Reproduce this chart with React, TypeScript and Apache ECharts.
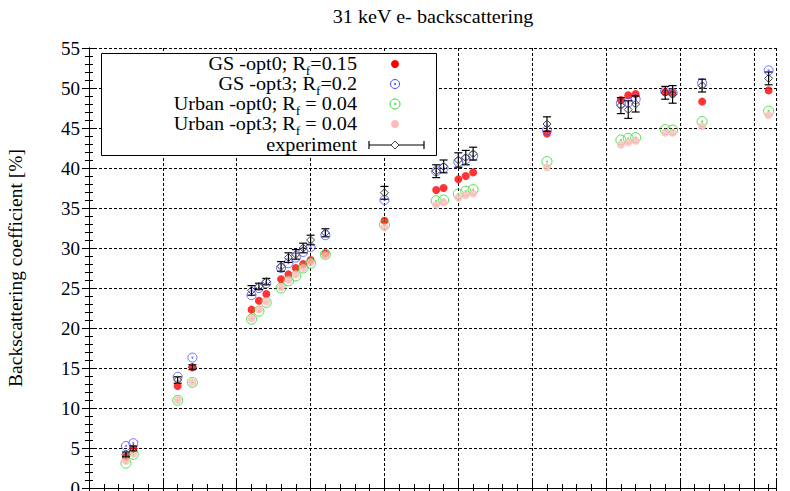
import React, { useEffect, useRef } from "react";
import * as echarts from "echarts";

// Atomic number of each target
const atomicNumbers = [5, 6, 12, 14, 22, 23, 24, 26, 27, 28, 29, 30, 32, 40, 47, 48, 50, 51, 52, 62, 72, 73, 74, 78, 79, 83, 92];
const gsOpt0 = [3.9, 4.9, 12.75, 15.1, 22.3, 23.4, 24.25, 26.1, 26.7, 27.5, 28.0, 28.5, 29.3, 33.4, 37.25, 37.5, 38.6, 39.0, 39.45, 44.3, 48.5, 49.1, 49.25, 49.5, 49.4, 48.3, 49.7];
const gsOpt3 = [5.25, 5.6, 13.9, 16.3, 24.1, 25.0, 25.6, 27.5, 28.1, 28.8, 29.5, 30.1, 31.6, 36.0, 39.6, 40.0, 40.75, 41.1, 41.5, 44.7, 48.1, 48.2, 48.6, 49.6, 49.4, 50.6, 52.2];
const urbanOpt0 = [3.1, 4.2, 10.96, 13.2, 21.1, 22.1, 23.2, 25.0, 25.9, 26.5, 27.5, 28.1, 29.2, 32.9, 35.9, 36.0, 36.75, 37.1, 37.3, 40.8, 43.5, 43.7, 43.8, 44.8, 44.75, 45.8, 47.1];
const urbanOpt3 = [3.4, 4.3, 11.0, 13.2, 21.2, 22.3, 23.3, 25.1, 26.0, 26.7, 27.5, 28.2, 29.1, 32.6, 35.4, 35.7, 36.3, 36.6, 36.8, 40.1, 42.9, 43.2, 43.4, 44.4, 44.4, 45.2, 46.6];
const experiment = [4.2, 4.95, 13.5, 15.1, 24.7, 25.2, 25.8, 27.7, 28.8, 29.2, 30.0, 31.0, 31.9, 36.9, 39.6, 40.2, 41.0, 41.3, 41.8, 45.5, 47.8, 47.3, 48.0, 49.4, 49.2, 50.3, 51.2];
const experimentErr = [0.3, 0.3, 0.4, 0.3, 0.6, 0.4, 0.4, 0.6, 0.6, 0.6, 0.6, 0.6, 0.5, 0.8, 0.8, 0.8, 0.9, 0.9, 0.8, 0.9, 1.0, 1.1, 1.0, 0.8, 1.1, 0.8, 0.8];

const legendLabels = [
  "GS -opt0; R{s|f}=0.15",
  "GS -opt3; R{s|f}=0.2",
  "Urban -opt0; R{s|f} = 0.04",
  "Urban -opt3; R{s|f} = 0.04",
  "experiment",
];

const SERIF = '"Liberation Serif", "DejaVu Serif", serif';
const RED = "#ff0000";
const BLUE = "#4a4aff";
const GREEN = "#22dd22";
const PINK = "#ffbaba";

export default function App() {
  const ref = useRef<HTMLDivElement>(null);
  useEffect(() => {
    if (!ref.current) return;
    const chart = echarts.init(ref.current, null, { renderer: "svg" });
    const pts = (vals: number[]) => atomicNumbers.map((z, i) => [z, vals[i]]);
    const expData = atomicNumbers.map((z, i) => [z, experiment[i], experimentErr[i]]);

    const axisCommon = {
      axisLine: { show: true, lineStyle: { color: "#000", width: 1 } },
      axisTick: { show: true, inside: true, length: 7, lineStyle: { color: "#000" } },
      minorTick: { show: true, splitNumber: 5, length: 4, lineStyle: { color: "#000" } },
    };

    const legendX = 395;
    const legendYs = [64, 84, 104, 124, 145];
    const graphic: any[] = [
      {
        type: "text",
        x: 433,
        y: 17,
        scaleX: 1.12,
        style: {
          text: "31 keV e- backscattering",
          font: `18px ${SERIF}`,
          fill: "#000",
          align: "center",
          verticalAlign: "middle",
          textAlign: "center",
          textVerticalAlign: "middle",
        },
      },
      {
        type: "rect",
        shape: { x: 101.5, y: 53.5, width: 335, height: 102 },
        style: { fill: "#fff", stroke: "#000", lineWidth: 1 },
        z: 10,
      },
    ];
    legendLabels.forEach((t, i) => {
      graphic.push({
        type: "text",
        x: 357,
        y: legendYs[i],
        scaleX: 1.12,
        z: 11,
        style: {
          text: t,
          font: `18px ${SERIF}`,
          fill: "#000",
          lineHeight: 20,
          align: "right",
          verticalAlign: "middle",
          textAlign: "right",
          textVerticalAlign: "middle",
          rich: { s: { font: `12px ${SERIF}`, verticalAlign: "bottom", height: 6, fill: "#000" } },
        },
      });
    });
    graphic.push(
      { type: "circle", z: 11, shape: { cx: legendX, cy: legendYs[0], r: 4 }, style: { fill: RED } },
      { type: "circle", z: 11, shape: { cx: legendX, cy: legendYs[1], r: 4.5 }, style: { fill: "none", stroke: BLUE, lineWidth: 1 } },
      { type: "circle", z: 11, shape: { cx: legendX, cy: legendYs[1], r: 1 }, style: { fill: BLUE } },
      { type: "circle", z: 11, shape: { cx: legendX, cy: legendYs[2], r: 5 }, style: { fill: "none", stroke: GREEN, lineWidth: 1 } },
      { type: "circle", z: 11, shape: { cx: legendX, cy: legendYs[2], r: 1 }, style: { fill: GREEN } },
      { type: "circle", z: 11, shape: { cx: legendX, cy: legendYs[3], r: 4 }, style: { fill: PINK } },
      { type: "line", z: 11, shape: { x1: 369, y1: legendYs[4], x2: 424, y2: legendYs[4] }, style: { stroke: "#000", lineWidth: 1.2 } },
      { type: "line", z: 11, shape: { x1: 369, y1: legendYs[4] - 4, x2: 369, y2: legendYs[4] + 4 }, style: { stroke: "#000", lineWidth: 1.2 } },
      { type: "line", z: 11, shape: { x1: 424, y1: legendYs[4] - 4, x2: 424, y2: legendYs[4] + 4 }, style: { stroke: "#000", lineWidth: 1.2 } },
      {
        type: "polygon",
        z: 12,
        shape: { points: [[legendX, legendYs[4] - 4], [legendX + 4, legendYs[4]], [legendX, legendYs[4] + 4], [legendX - 4, legendYs[4]]] },
        style: { fill: "#fff", stroke: "#444", lineWidth: 1 },
      }
    );

    const option: any = {
      animation: false,
      backgroundColor: "#fff",
      grid: { left: 89, right: 14, top: 48, bottom: 3, containLabel: false, outerBoundsMode: "none" },
      graphic,
      xAxis: [
        {
          type: "value",
          min: 0,
          max: 93,
          interval: 10,
          position: "bottom",
          ...axisCommon,
          axisLabel: { show: false },
          splitLine: { show: true, lineStyle: { color: "#000", type: [3, 2], width: 1 } },
        },
        {
          type: "value",
          min: 0,
          max: 93,
          interval: 10,
          position: "top",
          ...axisCommon,
          axisLabel: { show: false },
          splitLine: { show: false },
        },
      ],
      yAxis: [
        {
          type: "value",
          min: 0,
          max: 55,
          interval: 5,
          position: "left",
          ...axisCommon,
          name: "Backscattering coefficient [%]",
          nameLocation: "middle",
          nameGap: 64,
          nameTextStyle: { fontFamily: SERIF, fontSize: 19.5, color: "#000" },
          axisLabel: { show: true, fontFamily: SERIF, fontSize: 19, color: "#000", margin: 9 },
          splitLine: { show: true, lineStyle: { color: "#000", type: [3, 2], width: 1 } },
        },
        {
          type: "value",
          min: 0,
          max: 55,
          interval: 5,
          position: "right",
          ...axisCommon,
          axisLabel: { show: false },
          splitLine: { show: false },
        },
      ],
      series: [
        {
          name: "GS -opt0",
          type: "scatter",
          data: pts(gsOpt0),
          symbol: "circle",
          symbolSize: 8,
          itemStyle: { color: RED },
          z: 2,
        },
        {
          name: "GS -opt3",
          type: "scatter",
          data: pts(gsOpt3),
          symbol: "circle",
          symbolSize: 9,
          itemStyle: { color: "none", borderColor: BLUE, borderWidth: 1 },
          z: 3,
        },
        {
          name: "GS -opt3 dot",
          type: "scatter",
          data: pts(gsOpt3),
          symbol: "circle",
          symbolSize: 2,
          itemStyle: { color: BLUE },
          z: 3,
        },
        {
          name: "Urban -opt0",
          type: "scatter",
          data: pts(urbanOpt0),
          symbol: "circle",
          symbolSize: 10,
          itemStyle: { color: "none", borderColor: GREEN, borderWidth: 1 },
          z: 4,
        },
        {
          name: "Urban -opt0 dot",
          type: "scatter",
          data: pts(urbanOpt0),
          symbol: "circle",
          symbolSize: 2,
          itemStyle: { color: GREEN },
          z: 4,
        },
        {
          name: "Urban -opt3",
          type: "scatter",
          data: pts(urbanOpt3),
          symbol: "circle",
          symbolSize: 8,
          itemStyle: { color: PINK },
          z: 5,
        },
        {
          name: "experiment",
          type: "custom",
          data: expData,
          z: 6,
          renderItem: (params: any, api: any) => {
            const x = api.value(0);
            const y = api.value(1);
            const e = api.value(2);
            const p = api.coord([x, y]);
            const t = api.coord([x, y + e]);
            const b = api.coord([x, y - e]);
            const cap = 4;
            const ls = { stroke: "#000", lineWidth: 1.2 };
            return {
              type: "group",
              children: [
                { type: "line", shape: { x1: p[0], y1: t[1], x2: p[0], y2: b[1] }, style: ls },
                { type: "line", shape: { x1: p[0] - cap, y1: t[1], x2: p[0] + cap, y2: t[1] }, style: ls },
                { type: "line", shape: { x1: p[0] - cap, y1: b[1], x2: p[0] + cap, y2: b[1] }, style: ls },
                {
                  type: "polygon",
                  shape: { points: [[p[0], p[1] - 4], [p[0] + 4, p[1]], [p[0], p[1] + 4], [p[0] - 4, p[1]]] },
                  style: { fill: "none", stroke: "#444", lineWidth: 1 },
                },
              ],
            };
          },
        },
      ],
    };
    chart.setOption(option);
    return () => chart.dispose();
  }, []);
  return (
    <div
      ref={ref}
      style={{ position: "absolute", left: 0, top: 0, width: 790, height: 491, background: "#fff" }}
    />
  );
}
